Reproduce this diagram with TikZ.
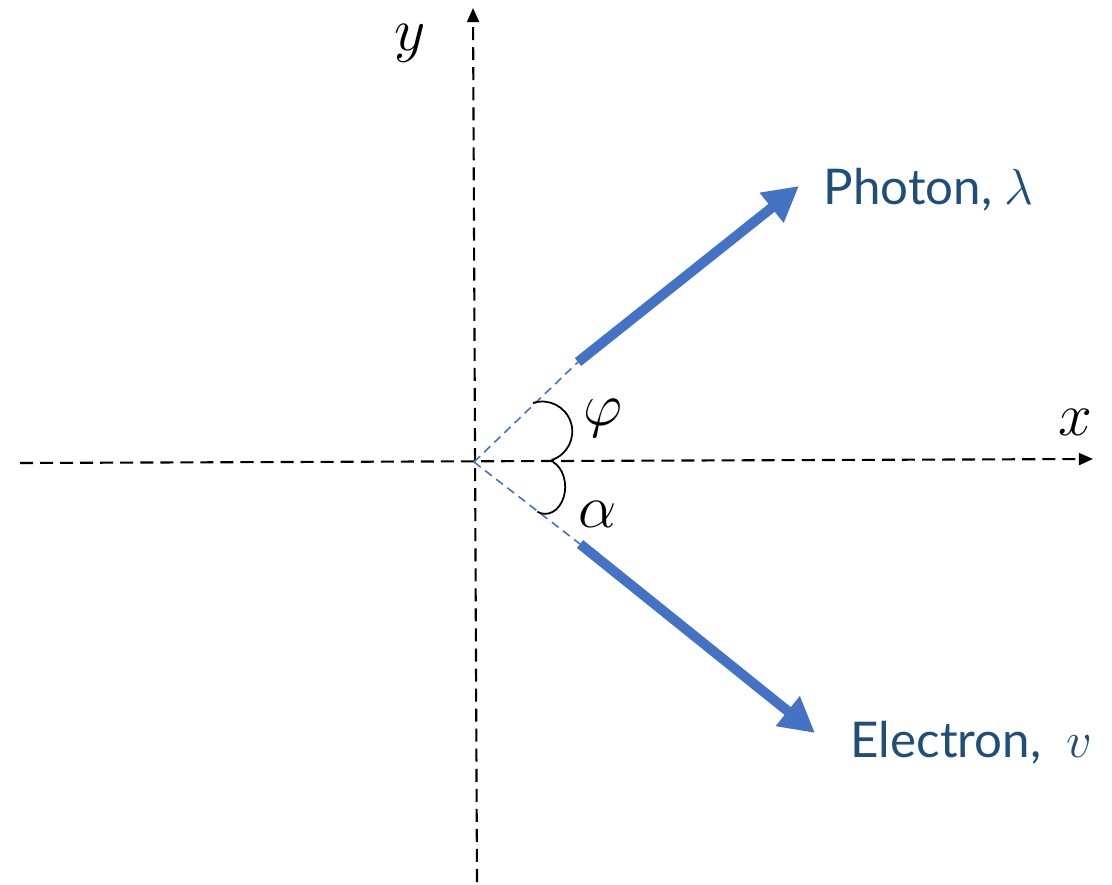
\documentclass[tikz,border=0pt]{standalone}
\usepackage{fontspec}
\setmainfont{Lato}
\usepackage{xcolor}
\usetikzlibrary{arrows.meta}
\definecolor{rayblue}{HTML}{4472C4}
\definecolor{txtblue}{HTML}{1F4E79}

\begin{document}
\begin{tikzpicture}[
  x=0.01cm, y=-0.01cm,
  axis/.style={draw=black, line width=0.6pt, dash pattern=on 3.7pt off 2pt, -{Triangle[length=4pt,width=3.4pt]}},
  guide/.style={draw=rayblue, line width=0.45pt, dash pattern=on 2.4pt off 1.6pt},
  ray/.style={draw=rayblue, line width=2.85pt, -{Triangle[length=0.35cm,width=0.36cm]}},
  angarc/.style={draw=black, line width=0.5pt},
  lbl/.style={text=txtblue, font=\fontsize{14}{16}\selectfont, anchor=west, inner sep=0pt},
  sym/.style={font=\fontsize{16}{18}\selectfont, inner sep=0pt}
]
\useasboundingbox (0,0) rectangle (1112,885);

% -- axes --
\coordinate (O) at (474,462);
\coordinate (xstart) at (20,463);
\coordinate (xtip) at (1093,459);
\coordinate (ystart) at (477,882);
\coordinate (ytip) at (473,8);
\draw[axis] (xstart) -- (xtip);
\draw[axis] (ystart) -- (ytip);

% -- photon and electron --
\coordinate (ph0) at (578,362);
\coordinate (ph1) at (799,186);
\coordinate (el0) at (580,544);
\coordinate (el1) at (815,733);
\draw[guide] (O) -- (ph0);
\draw[guide] (O) -- (el0);
\draw[ray] (ph0) -- (ph1);
\draw[ray] (el0) -- (el1);

% angle marks
\coordinate (phiA) at (533,403);
\coordinate (alphaA) at (553,462);
\draw[angarc] (phiA) arc[start angle=-108, end angle=72, radius=30];
\draw[angarc] (alphaA) arc[start angle=-67, end angle=113, x radius=20, y radius=27];

\node[lbl] (photon) at (823,190) {Photon, $\lambda$};
\node[lbl] (electron) at (850,743) {Electron, \ $v$};
\node[sym] (phi) at (603,418) {$\varphi$};
\node[sym] (alpha) at (598,514) {$\alpha$};
\node[sym] (xlbl) at (1075,422) {$x$};
\node[sym] (ylbl) at (410,43) {$y$};

\end{tikzpicture}
\end{document}
